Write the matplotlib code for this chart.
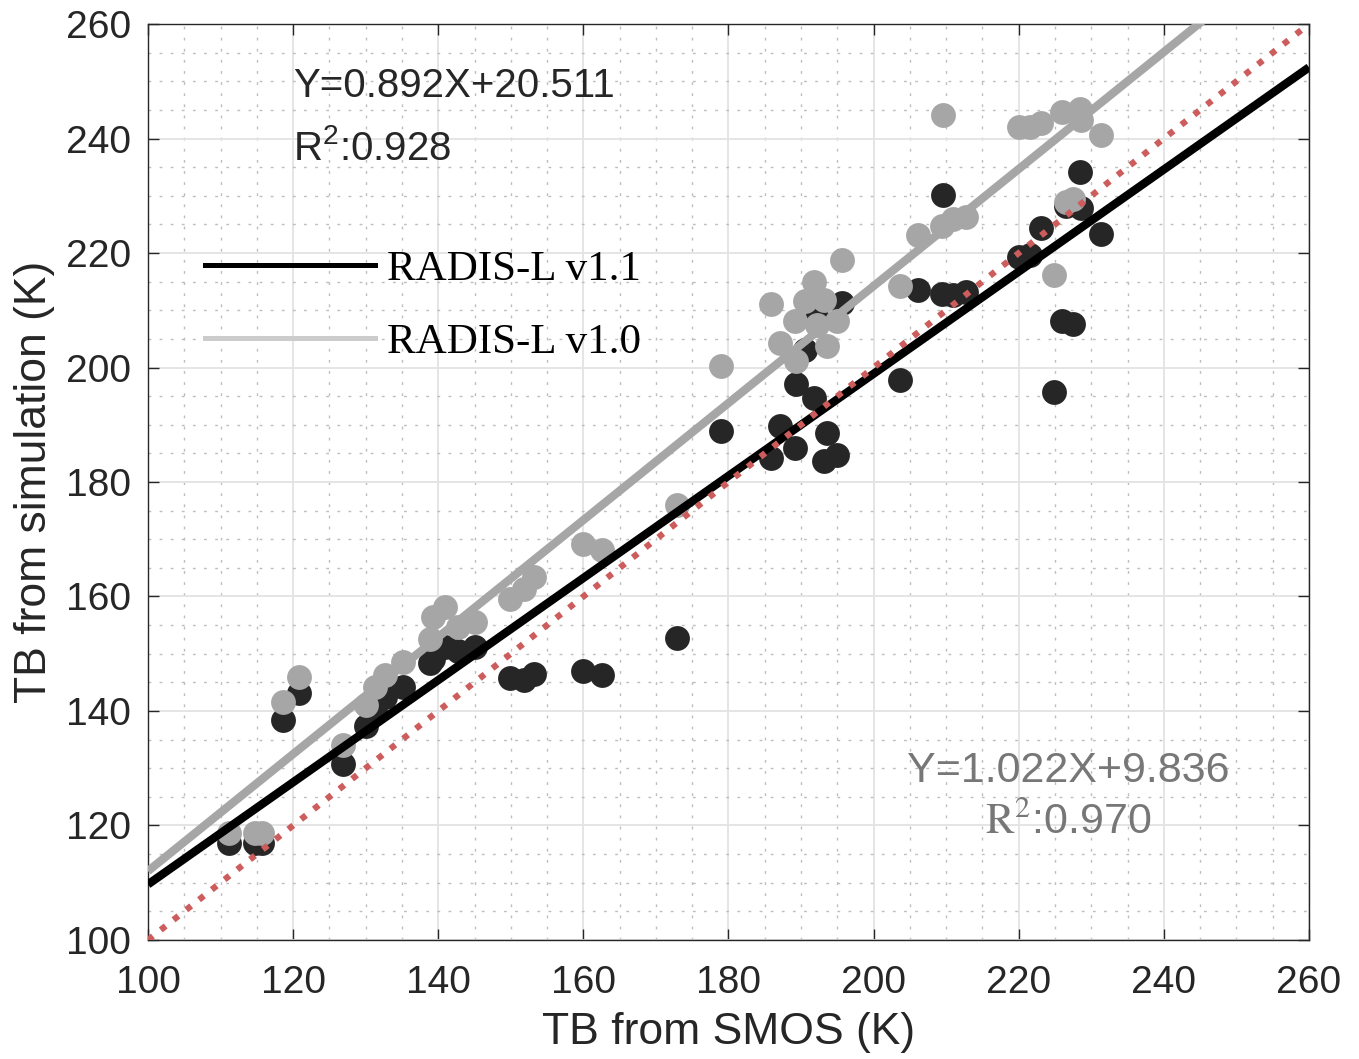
import numpy as np
import matplotlib
matplotlib.use("Agg")
import matplotlib.pyplot as plt
from matplotlib.lines import Line2D
from matplotlib.ticker import MultipleLocator

plt.rcParams['font.family'] = ['Liberation Sans', 'DejaVu Sans']
plt.rcParams['mathtext.fontset'] = 'custom'
plt.rcParams['mathtext.rm'] = 'Liberation Sans'

# TB observed by SMOS (K), same sites for both model versions
smos_tb = [111.2, 114.7, 115.7, 118.6, 120.8, 126.9, 130.1, 131.3, 132.7, 135.2,
           138.9, 139.3, 141.0, 142.7, 145.1, 149.9, 151.8, 153.2, 159.9, 162.6,
           172.9, 178.9, 185.8, 187.1, 189.2, 189.3, 190.5, 191.8, 192.2, 193.1,
           193.6, 194.9, 195.7, 203.6, 206.1, 209.4, 209.6, 211.0, 212.8, 220.0,
           221.5, 223.1, 224.8, 225.9, 226.5, 227.5, 228.4, 228.6, 231.3]
# simulated TB, RADIS-L v1.1
sim_v11 = [117.0, 117.0, 117.0, 138.5, 143.1, 130.7, 137.3, 140.0, 142.5, 144.2,
           148.3, 149.0, 151.2, 150.5, 151.2, 145.7, 145.4, 146.4, 147.0, 146.3,
           152.7, 188.9, 184.2, 189.7, 185.9, 197.2, 203.1, 194.7, 208.6, 183.6,
           188.5, 184.8, 211.3, 197.8, 213.6, 212.9, 230.1, 212.6, 213.2, 219.3,
           219.6, 224.3, 195.8, 208.2, 228.3, 207.6, 234.2, 227.8, 223.4]
# simulated TB, RADIS-L v1.0
sim_v10 = [118.6, 118.6, 118.6, 141.5, 145.9, 134.1, 141.0, 144.2, 146.2, 148.6,
           152.6, 156.4, 158.1, 154.7, 155.5, 159.5, 161.3, 163.4, 169.2, 168.1,
           176.0, 200.2, 211.1, 204.3, 208.1, 201.1, 211.6, 215.0, 207.5, 211.8,
           203.7, 208.1, 218.7, 214.2, 223.1, 224.8, 244.1, 226.0, 226.3, 242.0,
           242.0, 242.8, 216.1, 244.7, 228.9, 229.5, 245.2, 243.2, 240.7]

# regression results (slope, intercept, R2)
fit_v11 = (0.892, 20.511, 0.928)
fit_v10 = (1.022, 9.836, 0.970)
labels = ['RADIS-L v1.1', 'RADIS-L v1.0']

lim = (100, 260)

fig = plt.figure(figsize=(13.59, 10.59), dpi=100)
ax = fig.add_axes([0.1089, 0.1124, 0.8543, 0.8649])

ax.scatter(smos_tb, sim_v11, s=320, color='#262626', linewidths=0, zorder=2)
ax.scatter(smos_tb, sim_v10, s=320, color='#a6a6a6', linewidths=0, zorder=3)

xx = np.array(lim, dtype=float)
ax.plot(xx, fit_v11[0] * xx + fit_v11[1], color='black', lw=6, zorder=4, solid_capstyle='butt')
ax.plot(xx, fit_v10[0] * xx + fit_v10[1], color='#a6a6a6', lw=6, zorder=4, solid_capstyle='butt')
ax.plot(xx, xx, color='#cd5c5c', lw=4.5, linestyle=(0, (1, 1.6)), zorder=5)

ax.set_xlim(lim)
ax.set_ylim(lim)
ax.xaxis.set_major_locator(MultipleLocator(20))
ax.yaxis.set_major_locator(MultipleLocator(20))
ax.xaxis.set_minor_locator(MultipleLocator(5))
ax.yaxis.set_minor_locator(MultipleLocator(5))
ax.set_axisbelow(True)
ax.grid(which='major', color='#e3e3e3', lw=1.3)
ax.grid(which='minor', color='#bdbdbd', lw=1.0, linestyle=(0, (2, 6)))
ax.tick_params(which='major', direction='in', length=8, width=1, colors='#262626',
               top=True, right=True, labelsize=28)
ax.tick_params(axis='x', which='major', pad=18)
ax.tick_params(axis='y', which='major', pad=12)
ax.tick_params(which='minor', length=0)
for sp in ax.spines.values():
    sp.set_color('#262626')
    sp.set_linewidth(1.0)

ax.set_xlabel('TB from SMOS (K)', fontsize=32, color='#262626', labelpad=8)
ax.set_ylabel('TB from simulation (K)', fontsize=32, color='#262626', labelpad=8)

# equations
ax.text(120, 247.2, f'Y={fit_v11[0]:.3f}X+{fit_v11[1]:.3f}', fontsize=29,
        color='#262626', ha='left', va='baseline')
ax.text(120, 236.2, 'R$\\mathregular{^2}$:' + f'{fit_v11[2]:.3f}', fontsize=29,
        color='#262626', ha='left', va='baseline')
ax.text(226.8, 127.6, f'Y={fit_v10[0]:.3f}X+{fit_v10[1]:.3f}', fontsize=31,
        color='#777777', ha='center', va='baseline')
ax.text(226.8, 118.7, '$\\mathrm{R^2}$:' + f'{fit_v10[2]:.3f}', fontsize=31,
        color='#777777', ha='center', va='baseline', math_fontfamily='stix')

handles = [Line2D([], [], color='black', lw=3.6),
           Line2D([], [], color='#cccccc', lw=3.6)]
ax.legend(handles, labels, loc='upper left', bbox_to_anchor=(0.049, 0.753),
          frameon=False, borderpad=0, borderaxespad=0, handlelength=3.95,
          handletextpad=0.28, labelspacing=0.77,
          prop={'family': 'Liberation Serif', 'size': 31})

fig.savefig('out.png', dpi=100)
